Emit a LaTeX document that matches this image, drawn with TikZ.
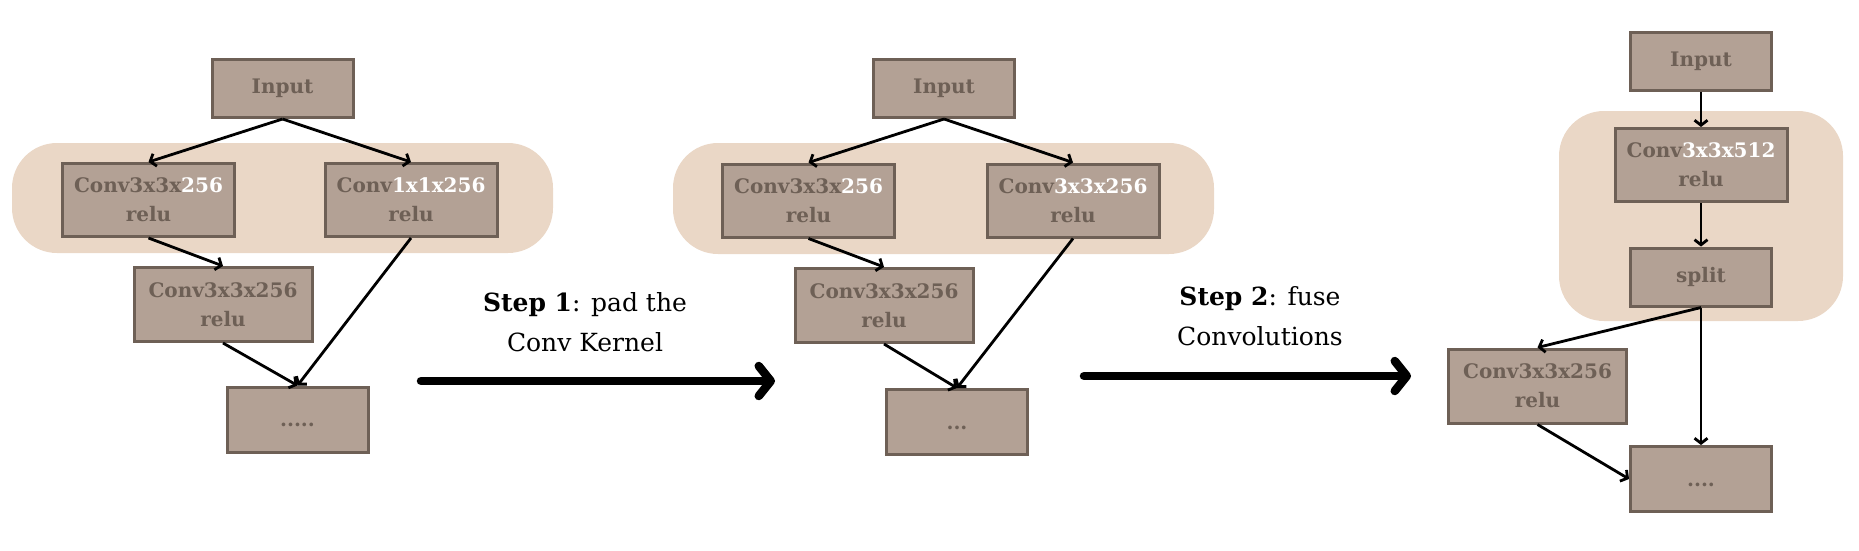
\documentclass[tikz,border=0pt]{standalone}
\usepackage{fontspec}
\setmainfont{DejaVu Serif}
\usetikzlibrary{arrows.meta}
\definecolor{boxfill}{HTML}{B3A195}
\definecolor{boxline}{HTML}{6E6056}
\definecolor{boxtext}{HTML}{6E6056}
\definecolor{groupbg}{HTML}{EAD7C6}
\newcommand{\hl}[1]{\textcolor{white}{#1}}
\begin{document}
\begin{tikzpicture}[x=1pt,y=-1pt,
  box/.style={draw=boxline, fill=boxfill, line width=3pt, inner sep=0pt, align=center,
    text=boxtext, font=\fontsize{20}{29}\selectfont\bfseries},
  smallbox/.style={box, minimum width=141pt, minimum height=58pt},
  convbox/.style={box, minimum width=172pt, minimum height=73pt},
  widebox/.style={box, minimum width=178pt, minimum height=74pt},
  dotbox/.style={box, minimum width=141pt, minimum height=65pt},
  group/.style={fill=groupbg, rounded corners=45pt},
  conn/.style={-{Straight Barb[length=5pt,width=13pt]}, line width=2.8pt, black},
  bigarrow/.style={-{Straight Barb[length=12pt,width=30pt,round]}, line width=8.5pt, line cap=round, black},
  steptext/.style={align=center, font=\fontsize{25}{40}\selectfont, text=black}
]
\useasboundingbox (0,0) rectangle (1859,550);

% ---------- left panel ----------
\fill[group] (12,143) rectangle (553,253);
\node[smallbox] (inL) at (282.5,88.5) {Input};
\node[convbox] (aL) at (148.5,200) {Conv3x3x\hl{256}\\relu};
\node[convbox] (bL) at (411,200) {Conv\hl{1x1x256}\\relu};
\node[widebox] (cL) at (223,304.5) {Conv3x3x256\\relu};
\node[dotbox] (dL) at (297.5,419.5) {\vphantom{I}.....};
\draw[conn] (inL.south) -- (aL.north);
\draw[conn] (inL.south) -- (bL.north);
\draw[conn] (aL.south) -- (cL.north);
\draw[conn] (cL.south) -- (dL.north);
\draw[conn] (bL.south) -- (dL.north);

% ---------- step 1 ----------
\node[steptext] (s1) at (585,322) {\textbf{Step 1}: pad the\\Conv Kernel};
\coordinate (s1a) at (421,381);
\coordinate (s1b) at (775,381);
\draw[bigarrow] (s1a) -- (s1b);

% ---------- middle panel ----------
\fill[group] (673,143) rectangle (1214,254);
\node[smallbox] (inM) at (944,88.5) {Input};
\node[convbox] (aM) at (808.5,200.5) {Conv3x3x\hl{256}\\relu};
\node[convbox] (bM) at (1073,200.5) {Conv\hl{3x3x256}\\relu};
\node[widebox] (cM) at (884,305.5) {Conv3x3x256\\relu};
\node[dotbox] (dM) at (957,422) {\vphantom{I}...};
\draw[conn] (inM.south) -- (aM.north);
\draw[conn] (inM.south) -- (bM.north);
\draw[conn] (aM.south) -- (cM.north);
\draw[conn] (cM.south) -- (dM.north);
\draw[conn] (bM.south) -- (dM.north);

% ---------- step 2 ----------
\node[steptext] (s2) at (1260,316) {\textbf{Step 2}: fuse\\Convolutions};
\coordinate (s2a) at (1084,376);
\coordinate (s2b) at (1411,376);
\draw[bigarrow] (s2a) -- (s2b);

% ---------- right panel ----------
\fill[group] (1559,111) rectangle (1843,321);
\node[smallbox] (inR) at (1701,61) {Input};
\node[convbox] (aR) at (1701,165) {Conv\hl{3x3x512}\\relu};
\node[smallbox] (sR) at (1701,277) {split};
\node[widebox] (cR) at (1537.5,386) {Conv3x3x256\\relu};
\node[dotbox] (dR) at (1701,479) {\vphantom{I}....};
\draw[conn] (inR.south) -- (aR.north);
\draw[conn] (aR.south) -- (sR.north);
\draw[conn] (sR.south) -- (cR.north);
\draw[conn] (sR.south) -- (dR.north);
\draw[conn] (cR.south) -- (dR.west);
\end{tikzpicture}
\end{document}
